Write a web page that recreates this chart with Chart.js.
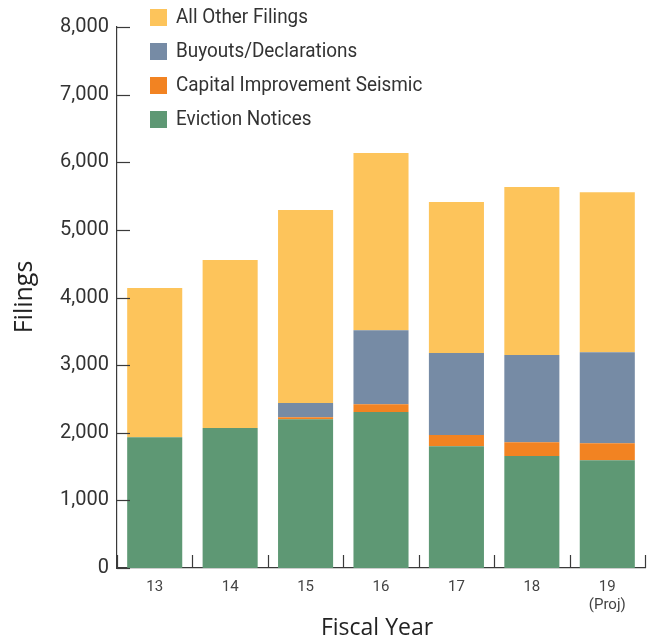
<!DOCTYPE html>
<html>
<head>
<meta charset="utf-8">
<script src="https://cdn.jsdelivr.net/npm/chart.js@4"></script>
<style>
html,body{margin:0;padding:0;background:#fff;}
#wrap{width:654px;height:642px;}
</style>
</head>
<body>
<div id="wrap"><canvas id="c" width="654" height="642"></canvas></div>
<script>
const categories = [["13"], ["14"], ["15"], ["16"], ["17"], ["18"], ["19", "(Proj)"]];
const evictionNotices = [1935, 2070, 2200, 2305, 1800, 1655, 1595];
const capitalImprovementSeismic = [0, 0, 30, 118, 165, 205, 250];
const buyoutsDeclarations = [0, 0, 210, 1094, 1213, 1290, 1345];
const allOtherFilings = [2205, 2485, 2855, 2619, 2233, 2485, 2365];
const yTicks = [0, 1000, 2000, 3000, 4000, 5000, 6000, 7000, 8000];

const NARROW = '"Roboto", "Liberation Sans", sans-serif';
const TITLE = '"Open Sans", "DejaVu Sans", sans-serif';
const AXIS_COLOR = '#3a3a3a';

const customPlugin = {
  id: 'custom',
  afterDraw(chart) {
    const ctx = chart.ctx;
    const x = chart.scales.x, y = chart.scales.y;
    const area = chart.chartArea;
    ctx.save();
    ctx.strokeStyle = AXIS_COLOR;
    ctx.lineWidth = 1.2;
    // inward y ticks
    y.ticks.forEach(t => {
      const py = Math.round(y.getPixelForValue(t.value)) + 0.5;
      ctx.beginPath();
      ctx.moveTo(area.left, py);
      ctx.lineTo(area.left + 13, py);
      ctx.stroke();
    });
    // upward x ticks at category boundaries
    const n = chart.data.labels.length;
    for (let i = 0; i <= n; i++) {
      let px;
      if (i === 0) px = area.left;
      else if (i === n) px = area.right;
      else px = (x.getPixelForValue(i - 1) + x.getPixelForValue(i)) / 2;
      px = Math.round(px) + 0.5;
      ctx.beginPath();
      ctx.moveTo(px, area.bottom);
      ctx.lineTo(px, area.bottom - 13);
      ctx.stroke();
    }
    // axis titles
    ctx.fillStyle = '#222';
    ctx.font = '23px ' + TITLE;
    ctx.textAlign = 'center';
    ctx.textBaseline = 'alphabetic';
    ctx.fillText('Fiscal Year', 377, 635);
    ctx.save();
    ctx.translate(32, 297);
    ctx.rotate(-Math.PI / 2);
    ctx.font = '25px ' + TITLE;
    ctx.fillText('Filings', 0, 0);
    ctx.restore();
    // legend (reverse dataset order)
    const ds = chart.data.datasets.slice().reverse();
    ctx.textAlign = 'left';
    ctx.textBaseline = 'middle';
    ds.forEach((d, i) => {
      const cy = 17 + i * 34;
      ctx.fillStyle = d.backgroundColor;
      ctx.fillRect(150, cy - 8, 17, 17);
      ctx.save();
      ctx.scale(0.9, 1);
      ctx.font = '21px ' + NARROW;
      ctx.fillStyle = '#333';
      ctx.fillText(d.label, 176 / 0.9, cy + 1);
      ctx.restore();
    });
    ctx.restore();
  }
};

new Chart(document.getElementById('c'), {
  type: 'bar',
  data: {
    labels: categories,
    datasets: [
      { label: 'Eviction Notices', data: evictionNotices, backgroundColor: '#5e9874' },
      { label: 'Capital Improvement Seismic', data: capitalImprovementSeismic, backgroundColor: '#f28322' },
      { label: 'Buyouts/Declarations', data: buyoutsDeclarations, backgroundColor: '#768ba5' },
      { label: 'All Other Filings', data: allOtherFilings, backgroundColor: '#fdc45b' }
    ]
  },
  options: {
    responsive: false,
    devicePixelRatio: 1,
    animation: false,
    layout: { padding: { top: 27, right: 9, left: 0, bottom: 0 } },
    plugins: { legend: { display: false }, tooltip: { enabled: false } },
    datasets: { bar: { categoryPercentage: 1, barPercentage: 0.73, borderWidth: 0 } },
    scales: {
      x: {
        stacked: true,
        offset: true,
        grid: { display: false, drawTicks: false },
        border: { display: true, color: AXIS_COLOR, width: 1.2 },
        ticks: { color: '#444', font: { family: NARROW, size: 15 }, padding: 10, maxRotation: 0, autoSkip: false },
        afterFit(s) { s.height = 74; }
      },
      y: {
        stacked: true,
        min: 0, max: 8000,
        afterBuildTicks(s) { s.ticks = yTicks.map(v => ({ value: v })); },
        grid: { display: false, drawTicks: false },
        border: { display: true, color: AXIS_COLOR, width: 1.2 },
        ticks: {
          color: '#333', font: { family: NARROW, size: 20 }, padding: 8,
          callback: v => v.toLocaleString('en-US')
        },
        afterFit(s) { s.width = 117; }
      }
    }
  },
  plugins: [customPlugin]
});
</script>
</body>
</html>
